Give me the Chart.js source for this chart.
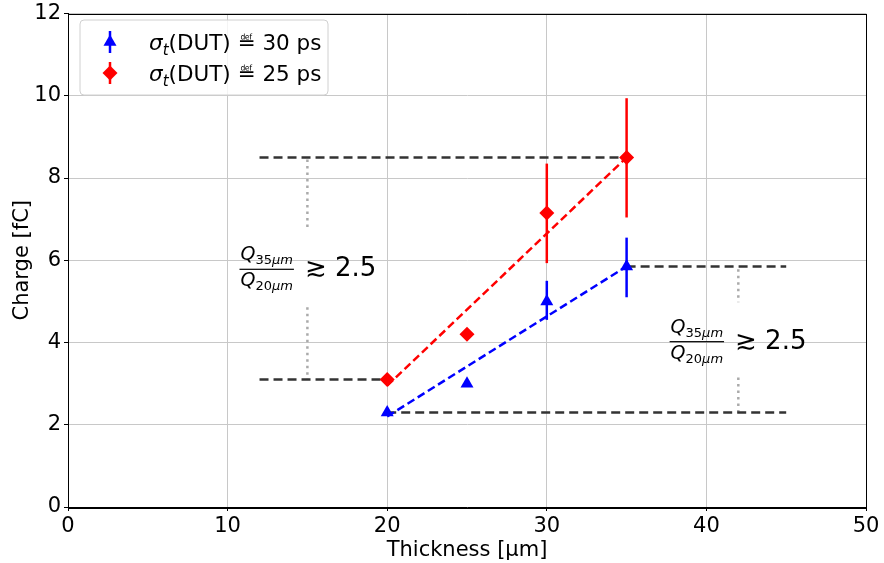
<!DOCTYPE html>
<html>
<head>
<meta charset="utf-8">
<script src="https://cdn.jsdelivr.net/npm/chart.js@4/dist/chart.umd.min.js"></script>
<style>
  html, body { margin: 0; background: #fff; }
</style>
</head>
<body>
<canvas id="chart" width="884" height="563"></canvas>
<script>
// measured thickness points
const thickness = [20, 25, 30, 35];

// sigma_t(DUT) = 30 ps
const charge30ps = [2.3, 3.0, 5.0, 5.85];
const charge30psLow = [null, null, 4.55, 5.1];
const charge30psHigh = [null, null, 5.5, 6.55];

// sigma_t(DUT) = 25 ps
const charge25ps = [3.1, 4.2, 7.15, 8.5];
const charge25psLow = [null, null, 5.93, 7.04];
const charge25psHigh = [null, null, 8.35, 9.94];

// dashed trend lines
const fitX = [20, 35];
const fit30psY = [2.2, 5.85];
const fit25psY = [2.95, 8.5];

// black reference levels
const levelY = [8.5, 3.1, 5.85, 2.3];
const levelFrom = [12, 12, 35, 20];
const levelTo = [35, 20, 45, 45];

// grey dotted gaps between levels
const gapX = [15, 15, 42, 42];
const gapTop = [8.45, 4.86, 5.78, 3.15];
const gapBottom = [6.73, 3.1, 4.98, 2.3];

// ratio labels (data coords of fraction centre)
const ratioX = [12.45, 39.4];
const ratioY = [5.78, 4.02];

const xTicks = [0, 10, 20, 30, 40, 50];
const yTicks = [0, 2, 4, 6, 8, 10, 12];

const FONT = '"DejaVu Sans", sans-serif';

function points(xs, ys) {
  return xs.map((x, i) => ({ x: x, y: ys[i] }));
}

const datasets = [
  {
    label: '30 ps',
    data: points(thickness, charge30ps),
    pointStyle: 'triangle',
    pointRadius: 7.5,
    backgroundColor: 'blue',
    borderColor: 'blue',
    borderWidth: 0,
    showLine: false,
    errLow: charge30psLow,
    errHigh: charge30psHigh
  },
  {
    label: '25 ps',
    data: points(thickness, charge25ps),
    pointStyle: 'rectRot',
    pointRadius: 7.5,
    backgroundColor: 'red',
    borderColor: 'red',
    borderWidth: 0,
    showLine: false,
    errLow: charge25psLow,
    errHigh: charge25psHigh
  },
  {
    data: points(fitX, fit30psY),
    showLine: true,
    borderColor: 'blue',
    borderWidth: 2.5,
    borderDash: [8, 4],
    pointRadius: 0
  },
  {
    data: points(fitX, fit25psY),
    showLine: true,
    borderColor: 'red',
    borderWidth: 2.5,
    borderDash: [8, 4],
    pointRadius: 0
  }
];

levelY.forEach(function (y, i) {
  datasets.push({
    data: [{ x: levelFrom[i], y: y }, { x: levelTo[i], y: y }],
    showLine: true,
    borderColor: '#333333',
    borderWidth: 2.5,
    borderDash: [9, 5],
    pointRadius: 0
  });
});

gapX.forEach(function (x, i) {
  datasets.push({
    data: [{ x: x, y: gapTop[i] }, { x: x, y: gapBottom[i] }],
    showLine: true,
    borderColor: '#aaaaaa',
    borderWidth: 2.5,
    borderDash: [2.5, 4],
    pointRadius: 0
  });
});

// vertical error bars, drawn just before the markers of the same dataset
const errorBars = {
  id: 'errorBars',
  beforeDatasetDraw(chart, args) {
    const ds = chart.data.datasets[args.index];
    if (!ds.errLow) return;
    const ctx = chart.ctx;
    const xs = chart.scales.x, ys = chart.scales.y;
    ctx.save();
    ctx.strokeStyle = ds.borderColor;
    ctx.lineWidth = 2.5;
    ds.data.forEach(function (p, i) {
      if (ds.errLow[i] == null) return;
      const px = xs.getPixelForValue(p.x);
      ctx.beginPath();
      ctx.moveTo(px, ys.getPixelForValue(ds.errLow[i]));
      ctx.lineTo(px, ys.getPixelForValue(ds.errHigh[i]));
      ctx.stroke();
    });
    ctx.restore();
  }
};

function drawPieces(ctx, pieces, x, baseline) {
  pieces.forEach(function (p) {
    ctx.font = p.f;
    ctx.fillText(p.t, x, baseline + (p.dy || 0));
    x += ctx.measureText(p.t).width;
  });
  return x;
}

function piecesWidth(ctx, pieces) {
  let w = 0;
  pieces.forEach(function (p) {
    ctx.font = p.f;
    w += ctx.measureText(p.t).width;
  });
  return w;
}

// frame, legend box and ratio labels
const decorations = {
  id: 'decorations',
  afterDraw(chart) {
    const ctx = chart.ctx;
    const a = chart.chartArea;
    ctx.save();
    ctx.strokeStyle = '#000';
    ctx.lineWidth = 1;
    ctx.strokeRect(Math.round(a.left) + 0.5, Math.round(a.top) + 0.5,
      Math.round(a.right - a.left), Math.round(a.bottom - a.top));

    // ratio labels
    ctx.fillStyle = '#000';
    ctx.textBaseline = 'alphabetic';
    ratioX.forEach(function (rx, i) {
      const cx = chart.scales.x.getPixelForValue(rx);
      const cy = chart.scales.y.getPixelForValue(ratioY[i]);
      const num = [
        { t: 'Q', f: 'italic 19px ' + FONT },
        { t: '35', f: '13px ' + FONT, dy: 4 },
        { t: 'μm', f: 'italic 13px ' + FONT, dy: 4 }
      ];
      const den = [
        { t: 'Q', f: 'italic 19px ' + FONT },
        { t: '20', f: '13px ' + FONT, dy: 4 },
        { t: 'μm', f: 'italic 13px ' + FONT, dy: 4 }
      ];
      const w = Math.max(piecesWidth(ctx, num), piecesWidth(ctx, den));
      drawPieces(ctx, num, cx - piecesWidth(ctx, num) / 2, cy - 9);
      drawPieces(ctx, den, cx - piecesWidth(ctx, den) / 2, cy + 17);
      ctx.fillRect(cx - w / 2 - 1, cy - 0.6, w + 2, 1.2);
      ctx.font = '26px ' + FONT;
      ctx.fillText('≳ 2.5', cx + w / 2 + 12, cy + 7);
    });

    // legend box
    const bx = 80, by = 20, bw = 248, bh = 75, r = 4;
    ctx.beginPath();
    ctx.moveTo(bx + r, by);
    ctx.arcTo(bx + bw, by, bx + bw, by + bh, r);
    ctx.arcTo(bx + bw, by + bh, bx, by + bh, r);
    ctx.arcTo(bx, by + bh, bx, by, r);
    ctx.arcTo(bx, by, bx + bw, by, r);
    ctx.closePath();
    ctx.fillStyle = 'rgba(255,255,255,0.8)';
    ctx.fill();
    ctx.strokeStyle = '#d0d0d0';
    ctx.lineWidth = 1;
    ctx.stroke();

    const entries = [
      { ds: chart.data.datasets[0], y: 42, value: '30 ps' },
      { ds: chart.data.datasets[1], y: 73, value: '25 ps' }
    ];
    entries.forEach(function (e) {
      ctx.strokeStyle = e.ds.borderColor;
      ctx.lineWidth = 2.5;
      ctx.beginPath();
      ctx.moveTo(110, e.y - 11);
      ctx.lineTo(110, e.y + 11);
      ctx.stroke();
      ctx.fillStyle = e.ds.backgroundColor;
      Chart.helpers.drawPoint(ctx, {
        pointStyle: e.ds.pointStyle, radius: 7.5, borderWidth: 0, rotation: 0
      }, 110, e.y);
      ctx.fillStyle = '#000';
      drawPieces(ctx, [
        { t: 'σ', f: 'italic 21.5px ' + FONT },
        { t: 't', f: 'italic 15px ' + FONT, dy: 5 },
        { t: '(DUT) ≝ ' + e.value, f: '21.5px ' + FONT }
      ], 149, e.y + 8);
    });
    ctx.restore();
  }
};

new Chart(document.getElementById('chart'), {
  type: 'scatter',
  data: { datasets: datasets },
  plugins: [errorBars, decorations],
  options: {
    responsive: false,
    devicePixelRatio: 1,
    animation: false,
    layout: { padding: { top: 12, right: 18, left: 0, bottom: 0 } },
    plugins: { legend: { display: false }, tooltip: { enabled: false } },
    scales: {
      x: {
        type: 'linear',
        min: 0,
        max: 50,
        afterBuildTicks(scale) { scale.ticks = xTicks.map(v => ({ value: v })); },
        afterFit(scale) { scale.height = 56; },
        ticks: { color: '#000', font: { family: FONT, size: 21 }, padding: 3 },
        grid: { color: '#c8c8c8', lineWidth: 1, tickColor: '#000', tickLength: 4 },
        border: { color: '#000', width: 1 },
        title: {
          display: true,
          text: 'Thickness [µm]',
          color: '#000',
          font: { family: FONT, size: 21 },
          padding: { top: 0, bottom: 0 }
        }
      },
      y: {
        type: 'linear',
        min: 0,
        max: 12,
        afterBuildTicks(scale) { scale.ticks = yTicks.map(v => ({ value: v })); },
        afterFit(scale) { scale.width = 68; },
        ticks: { color: '#000', font: { family: FONT, size: 21, lineHeight: 1 }, padding: 3 },
        grid: { color: '#c8c8c8', lineWidth: 1, tickColor: '#000', tickLength: 4 },
        border: { color: '#000', width: 1 },
        title: {
          display: true,
          text: 'Charge [fC]',
          color: '#000',
          font: { family: FONT, size: 21 },
          padding: { top: 10, bottom: 0 }
        }
      }
    }
  }
});
</script>
</body>
</html>
